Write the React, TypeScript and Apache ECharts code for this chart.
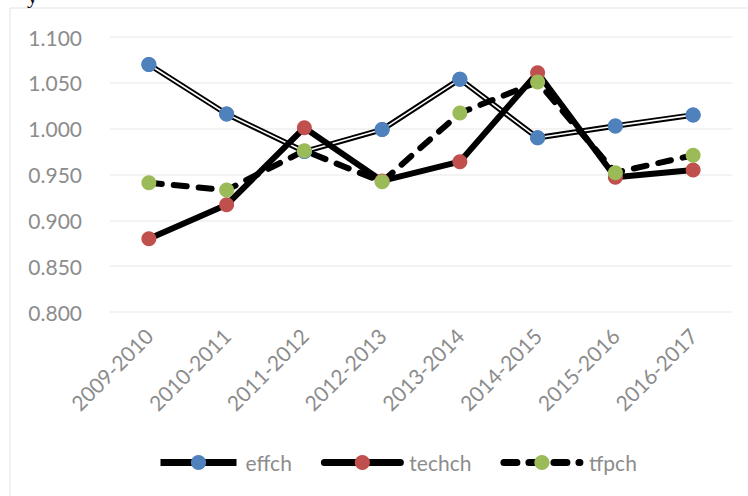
import React, { useEffect, useRef } from "react";
import * as echarts from "echarts";

const categories = ["2009-2010", "2010-2011", "2011-2012", "2012-2013", "2013-2014", "2014-2015", "2015-2016", "2016-2017"];
const effch = [1.070, 1.016, 0.975, 0.999, 1.054, 0.990, 1.003, 1.015];
const techch = [0.880, 0.917, 1.001, 0.943, 0.964, 1.061, 0.947, 0.955];
const tfpch = [0.941, 0.933, 0.976, 0.942, 1.017, 1.051, 0.952, 0.971];

const FONT = "Lato, 'Open Sans', sans-serif";

export default function App() {
  const ref = useRef<HTMLDivElement>(null);
  useEffect(() => {
    const chart = echarts.init(ref.current!, undefined, { renderer: "svg" });
    chart.setOption({
      animation: false,
      backgroundColor: "#ffffff",
      graphic: [
        {
          type: "rect",
          shape: { x: 10, y: 8, width: 760, height: 510 },
          style: { fill: "none", stroke: "#e3e3e3", lineWidth: 1 },
          silent: true,
          z: -10,
        },
        {
          type: "text",
          x: 27,
          y: 6,
          style: { text: "y", font: "22px 'Liberation Serif', serif", fill: "#000", verticalAlign: "bottom" },
          silent: true,
        },
      ],
      grid: { left: 110, right: 16, top: 37, bottom: 184, containLabel: false },
      legend: {
        top: 452,
        left: 157,
        padding: 0,
        itemWidth: 76,
        itemHeight: 19,
        itemGap: 29,
        data: ["effch", "techch", "tfpch"],
        lineStyle: { width: 7 },
        textStyle: { color: "#8c8c8c", fontSize: 21, fontFamily: FONT, padding: [0, 0, 0, 4] },
      },
      xAxis: {
        type: "category",
        data: categories,
        boundaryGap: true,
        axisLine: { show: false },
        axisTick: { show: false },
        axisLabel: { rotate: 45, color: "#8c8c8c", fontSize: 21, fontFamily: FONT, margin: 20 },
        splitLine: { show: false },
      },
      yAxis: {
        type: "value",
        min: 0.8,
        max: 1.1,
        interval: 0.05,
        axisLine: { show: false },
        axisTick: { show: false },
        axisLabel: {
          color: "#8c8c8c",
          fontSize: 21,
          fontFamily: FONT,
          margin: 28,
          formatter: (v: number) => v.toFixed(3),
        },
        splitLine: { lineStyle: { color: "#efefef", width: 1.5 } },
      },
      series: [
        {
          name: "effch",
          type: "line",
          data: effch,
          symbol: "circle",
          symbolSize: 15,
          showSymbol: true,
          itemStyle: { color: "#4f81bd" },
          lineStyle: { color: "#000", width: 5.5 },
          z: 2,
        },
        {
          name: "effch-inner",
          type: "line",
          data: effch,
          showSymbol: false,
          symbol: "none",
          lineStyle: { color: "#fff", width: 1.6 },
          silent: true,
          z: 2,
        },
        {
          name: "effch-marks",
          type: "line",
          data: effch,
          symbol: "circle",
          symbolSize: 15,
          itemStyle: { color: "#4f81bd" },
          lineStyle: { width: 0, opacity: 0 },
          silent: true,
          z: 2,
        },
        {
          name: "techch",
          type: "line",
          data: techch,
          symbol: "circle",
          symbolSize: 15,
          itemStyle: { color: "#c0504d" },
          lineStyle: { color: "#000", width: 6, cap: "round", join: "round" },
          z: 2,
        },
        {
          name: "tfpch",
          type: "line",
          data: tfpch,
          symbol: "circle",
          symbolSize: 15,
          itemStyle: { color: "#9bbb59" },
          lineStyle: { color: "#000", width: 6, type: [13, 12], cap: "round", join: "round" },
          z: 2,
        },
      ],
    });
    return () => chart.dispose();
  }, []);
  return <div ref={ref} style={{ width: 748, height: 496, position: "absolute", left: 0, top: 0 }} />;
}
